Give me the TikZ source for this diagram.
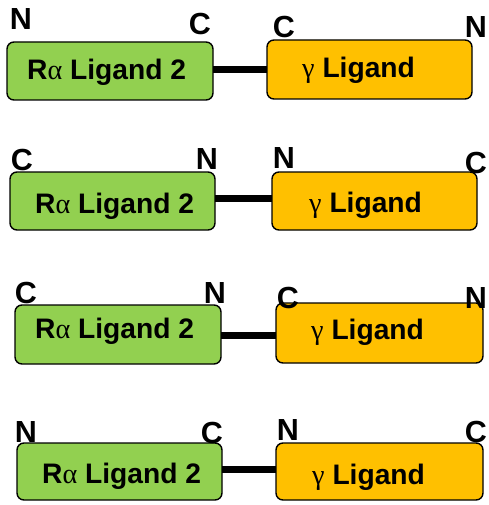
\documentclass[tikz,border=0pt]{standalone}
\usepackage{fontspec}
\setmainfont{Liberation Sans}
\newfontfamily\greekfont{Liberation Serif}
\definecolor{boxgreen}{HTML}{92D050}
\definecolor{boxorange}{HTML}{FFC000}
\tikzset{
  box/.style={draw=black, line width=1.4pt, rounded corners=7pt, inner sep=0pt, outer sep=0pt},
  gbox/.style={box, fill=boxgreen},
  obox/.style={box, fill=boxorange},
  term/.style={font=\fontsize{30.5}{30.5}\selectfont\bfseries, anchor=base, inner sep=0pt},
  lab/.style={font=\fontsize{28.2}{28.2}\selectfont\bfseries, anchor=base west, inner sep=0pt},
  linker/.style={line width=7pt, draw=black}
}
\newcommand{\gk}[1]{{\greekfont\mdseries #1}}
\begin{document}
\begin{tikzpicture}[x=1pt,y=-1pt]
\useasboundingbox (0,0) rectangle (488,505);
% row 1
\node[gbox, minimum width=206pt, minimum height=58pt] (g1) at (110,71) {};
\node[obox, minimum width=205pt, minimum height=59pt] (o1) at (369.5,69.5) {};
\draw[linker] (g1.east |- 0,70) -- (o1.west |- 0,70);
\node[lab] (t1) at (27,80) {R\gk{α} Ligand 2};
\node[lab] (u1) at (302,78) {\gk{γ} Ligand};
\node[term] (a1) at (21,30) {N};
\node[term] (b1) at (200,35) {C};
\node[term] (c1) at (284,38) {C};
\node[term] (d1) at (476,38) {N};
% row 2
\node[gbox, minimum width=205pt, minimum height=58pt] (g2) at (112.5,201) {};
\node[obox, minimum width=205pt, minimum height=58pt] (o2) at (374.5,201) {};
\draw[linker] (g2.east |- 0,198) -- (o2.west |- 0,198);
\node[lab] (t2) at (35,213) {R\gk{α} Ligand 2};
\node[lab] (u2) at (309,212) {\gk{γ} Ligand};
\node[term] (a2) at (22,170) {C};
\node[term] (b2) at (207,169) {N};
\node[term] (c2) at (284,168) {N};
\node[term] (d2) at (476,173) {C};
% row 3
\node[gbox, minimum width=206pt, minimum height=59pt] (g3) at (118,334.5) {};
\node[obox, minimum width=207pt, minimum height=60pt] (o3) at (379.5,333) {};
\draw[linker] (g3.east |- 0,335) -- (o3.west |- 0,335);
\node[lab] (t3) at (35,338) {R\gk{α} Ligand 2};
\node[lab] (u3) at (311,339) {\gk{γ} Ligand};
\node[term] (a3) at (26,303) {C};
\node[term] (b3) at (215,303) {N};
\node[term] (c3) at (288,308) {C};
\node[term] (d3) at (476,308) {N};
% row 4
\node[gbox, minimum width=205pt, minimum height=57pt] (g4) at (119.5,471.5) {};
\node[obox, minimum width=207pt, minimum height=57pt] (o4) at (379.5,471.5) {};
\draw[linker] (g4.east |- 0,469) -- (o4.west |- 0,469);
\node[lab] (t4) at (42,483) {R\gk{α} Ligand 2};
\node[lab] (u4) at (312,484) {\gk{γ} Ligand};
\node[term] (a4) at (26,442) {N};
\node[term] (b4) at (212,443) {C};
\node[term] (c4) at (288,440) {N};
\node[term] (d4) at (476,442) {C};
\end{tikzpicture}
\end{document}
